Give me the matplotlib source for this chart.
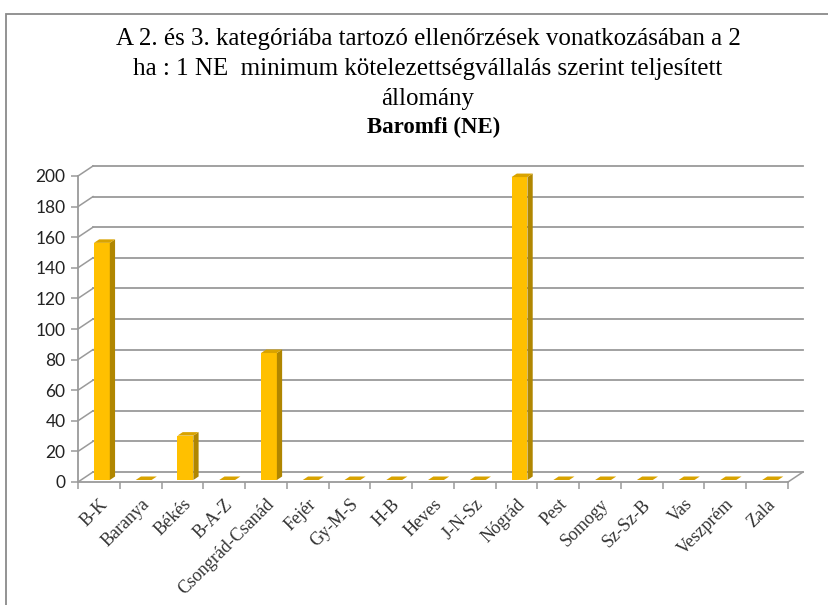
import matplotlib.pyplot as plt
from matplotlib.patches import Polygon, Rectangle

# data
counties = ['B-K', 'Baranya', 'Békés', 'B-A-Z', 'Csongrád-Csanád', 'Fejér', 'Gy-M-S',
            'H-B', 'Heves', 'J-N-Sz', 'Nógrád', 'Pest', 'Somogy', 'Sz-Sz-B', 'Vas',
            'Veszprém', 'Zala']
values = [155, 0, 29, 0, 83, 0, 0, 0, 0, 0, 198, 0, 0, 0, 0, 0, 0]
yticks = list(range(0, 201, 20))

title = ('A 2. és 3. kategóriába tartozó ellenőrzések vonatkozásában a 2\n'
         'ha : 1 NE  minimum kötelezettségvállalás szerint teljesített\n'
         'állomány')
subtitle = 'Baromfi (NE)'

W, H = 829, 605
fig = plt.figure(figsize=(W / 100, H / 100), dpi=100)

# pixel geometry of the plot box
px_left, px_right, px_top, px_bot = 78, 803, 166, 482
cat_px = (788 - 78) / 17.0
unit_px = (482 - 176) / 200.0
dx = 15 / cat_px          # depth offset in category units
dy = 10 / unit_px         # depth offset in value units

ax = fig.add_axes([px_left / W, 1 - px_bot / H, (px_right - px_left) / W, (px_bot - px_top) / H])
ax.set_xlim(-0.5, -0.5 + (px_right - px_left) / cat_px)
ax.set_ylim(0, (px_bot - px_top) / unit_px)

grid_c = '#9a9a9a'
n = len(counties)
x0, x1 = -0.5, n - 0.5

# back wall gridlines and side wall diagonals
for t in yticks:
    ax.plot([x0 + dx, x1 + dx], [t + dy, t + dy], color=grid_c, lw=1.3, zorder=1, clip_on=False)
    ax.plot([x0, x0 + dx], [t, t + dy], color=grid_c, lw=1.1, zorder=1, clip_on=False)
ax.plot([x1, x1 + dx], [0, dy], color=grid_c, lw=1.1, zorder=1, clip_on=False)

# 3d-ish bars
front_c, top_c, side_c = '#FFC000', '#D9A300', '#B08600'
f0, f1, w = 0.2, 0.55, 0.38
for i, v in enumerate(values):
    xl = i - w / 2 + f0 * dx
    xr = i + w / 2 + f0 * dx
    b0, b1 = f0 * dy, f1 * dy
    ddx = (f1 - f0) * dx
    if v > 0:
        ax.bar(i + f0 * dx, v, width=w, bottom=b0, color=front_c, zorder=3)
        ax.add_patch(Polygon([(xr, b0), (xr + ddx, b1), (xr + ddx, v + b1), (xr, v + b0)],
                             closed=True, facecolor=side_c, edgecolor='none', zorder=3))
    ax.add_patch(Polygon([(xl, v + b0), (xr, v + b0), (xr + ddx, v + b1), (xl + ddx, v + b1)],
                         closed=True, facecolor=top_c, edgecolor='none', zorder=3))

# axes styling
for s in ['top', 'right']:
    ax.spines[s].set_visible(False)
ax.spines['left'].set_color(grid_c)
ax.spines['bottom'].set_color(grid_c)
ax.spines['left'].set_linewidth(1.3)
ax.spines['bottom'].set_linewidth(1.3)
ax.spines['left'].set_bounds(0, 200)
ax.spines['bottom'].set_bounds(x0, x1)

ax.set_yticks(yticks)
ax.set_yticklabels([str(t) for t in yticks], fontsize=12.5, family='Lato', color='#222222')
ax.tick_params(axis='y', length=5, width=1.1, color=grid_c, pad=4)

ax.set_xticks(range(n))
ax.set_xticklabels(counties, rotation=45, ha='right', rotation_mode='anchor',
                   fontsize=13, family='Liberation Serif', color='#333333')
ax.set_xticks([k - 0.5 for k in range(n + 1)], minor=True)
ax.tick_params(axis='x', which='major', length=0, pad=10)
ax.tick_params(axis='x', which='minor', length=5, width=1.1, color=grid_c)

# titles
fig.text(428 / W, 1 - 69 / H, title, ha='center', va='center', fontsize=18,
         family='Liberation Serif', linespacing=1.45)
fig.text(434 / W, 1 - 127 / H, subtitle, ha='center', va='center', fontsize=16.5,
         family='Liberation Serif', fontweight='bold')

# outer chart frame
fig.patches.append(Rectangle((6 / W, -0.05), 1.1, 1 - 14 / H + 0.05, transform=fig.transFigure,
                             fill=False, edgecolor='#8a8a8a', lw=1.3))

fig.savefig('out.png', dpi=100)
